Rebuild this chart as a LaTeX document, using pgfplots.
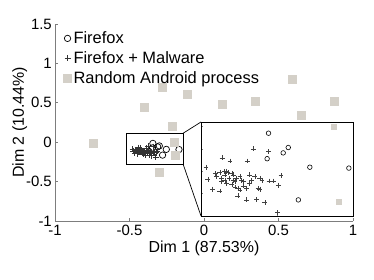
\documentclass[border=0pt]{standalone}
\usepackage{fontspec}
\setmainfont{Liberation Sans}
\usepackage{pgfplots}
\usepackage{pgfplotstable}
\pgfplotsset{compat=1.18}
\definecolor{sq}{RGB}{212,208,200}
\definecolor{axgray}{RGB}{125,125,125}

\pgfplotstableread{
x y
-0.343 -0.015
-0.300 -0.047
-0.311 -0.059
-0.346 -0.072
-0.253 -0.091
-0.168 -0.093
-0.278 -0.164
}\firefox

\pgfplotstableread{
x y
-0.479 -0.091
-0.444 -0.070
-0.427 -0.077
-0.389 -0.077
-0.376 -0.050
-0.343 -0.056
-0.316 -0.110
-0.475 -0.118
-0.459 -0.105
-0.449 -0.103
-0.439 -0.101
-0.434 -0.100
-0.431 -0.103
-0.423 -0.105
-0.420 -0.108
-0.456 -0.112
-0.445 -0.116
-0.438 -0.120
-0.429 -0.116
-0.420 -0.120
-0.413 -0.116
-0.405 -0.112
-0.402 -0.120
-0.398 -0.123
-0.384 -0.108
-0.380 -0.120
-0.373 -0.112
-0.362 -0.116
-0.357 -0.120
-0.342 -0.122
-0.333 -0.122
-0.322 -0.131
-0.465 -0.140
-0.449 -0.144
-0.416 -0.135
-0.409 -0.138
-0.405 -0.142
-0.391 -0.138
-0.384 -0.127
-0.366 -0.138
-0.362 -0.140
-0.410 -0.155
-0.391 -0.164
-0.369 -0.163
-0.351 -0.170
-0.324 -0.192
-0.445 -0.123
-0.434 -0.127
-0.423 -0.129
-0.416 -0.123
-0.398 -0.133
-0.438 -0.108
}\malware

\pgfplotstableread{
x y
-0.742 -0.013
-0.401 0.444
-0.281 0.698
-0.114 0.609
0.120 0.482
0.341 0.520
0.595 0.800
0.876 0.520
0.649 0.343
-0.214 0.203
-0.200 0.000
-0.190 -0.168
-0.301 -0.381
}\android

\begin{document}
\begin{tikzpicture}
\useasboundingbox (0,0) rectangle (374bp,280bp);
\begin{axis}[
  name=main,
  at={(55bp,59bp)}, anchor=south west,
  scale only axis, width=298bp, height=197bp,
  xmin=-1, xmax=1, ymin=-1, ymax=1.5,
  axis x line*=bottom, axis y line*=left,
  axis line style={axgray, line width=0.8bp, -},
  xtick={-1,-0.5,0,0.5,1}, xticklabels={-1,-0.5,0,0.5,1},
  ytick={-1,-0.5,0,0.5,1,1.5}, yticklabels={-1,-0.5,0,0.5,1,1.5},
  tick align=inside, major tick length=3bp,
  every tick/.style={axgray, line width=0.6bp},
  ticklabel style={font=\fontsize{15}{15}\selectfont, inner sep=0pt},
  xticklabel style={yshift=-4bp},
  yticklabel style={xshift=-3bp},
  xlabel={Dim 1 (87.53\%)}, ylabel={Dim 2 (10.44\%)},
  label style={font=\fontsize{16}{16}\selectfont, inner sep=0pt},
  xlabel style={at={(axis description cs:0.5,-0.14)}, anchor=center},
  ylabel style={at={(axis description cs:-0.118,0.5)}, anchor=center},
  clip=false,
  legend style={at={(0.028,0.972)}, anchor=north west, draw=none, fill=none,
    font=\fontsize{16.5}{17}\selectfont, row sep=2.5bp, inner sep=0pt},
  legend cell align=left,
]
\addplot[only marks, mark=o, mark size=3.2bp, mark options={black, line width=0.7bp}] table {\firefox};
\addlegendentry{Firefox}
\addplot[only marks, mark=+, mark size=3bp, mark options={black!80, line width=0.5bp}] table {\malware};
\addlegendentry{Firefox + Malware}
\addplot[only marks, mark=square*, mark size=4bp, mark options={sq, draw=none}] table {\android};
\addlegendentry{Random Android process}
\draw[black, line width=0.8bp] (axis cs:-0.522,-0.279) rectangle (axis cs:-0.14,0.114);
\coordinate (srT) at (axis cs:-0.14,0.114);
\coordinate (srB) at (axis cs:-0.14,-0.279);
\end{axis}
\begin{axis}[
  name=inset,
  at={(201bp,64bp)}, anchor=south west,
  scale only axis, width=152bp, height=94bp,
  xmin=-0.49, xmax=-0.159, ymin=-0.2, ymax=0.01,
  axis x line*=bottom, axis y line*=left,
  axis line style={axgray, line width=0.8bp, -},
  xtick={-0.49,-0.3245,-0.159}, xticklabels={},
  ytick={-0.2,-0.15,-0.1,-0.05,0}, yticklabels={},
  tick align=inside, major tick length=2bp,
  every tick/.style={axgray, line width=0.6bp},
  axis background/.style={fill=white},
]
\addplot[only marks, mark=o, mark size=2.3bp, mark options={black, line width=0.6bp}] table {\firefox};
\addplot[only marks, mark=+, mark size=2.4bp, mark options={black!75, line width=0.45bp}] table {\malware};
\addplot[only marks, mark=square*, mark size=2.5bp, mark options={sq, draw=none}] table {\android};
\end{axis}
\draw[black, line width=0.8bp] (inset.south west) -- (inset.south east) -- (inset.north east) -- (inset.north west) -- cycle;
\draw[black, line width=0.7bp] (srT) -- (inset.north west);
\draw[black, line width=0.7bp] (srB) -- (inset.south west);
\end{tikzpicture}
\end{document}
